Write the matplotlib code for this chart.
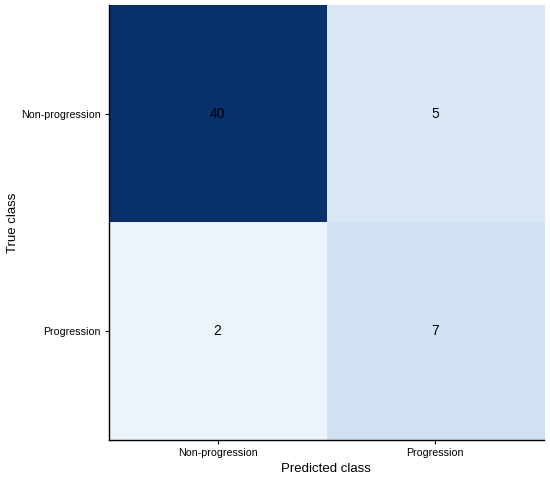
import matplotlib
matplotlib.use("Agg")
import matplotlib.pyplot as plt
import numpy as np

plt.rcParams['font.family'] = ['Liberation Sans', 'DejaVu Sans']

classes = ["Non-progression", "Progression"]
counts = [[40, 5],
          [2, 7]]

cm = np.array(counts)
fig = plt.figure(figsize=(5.5, 4.79), dpi=100)
ax = fig.add_axes([0.198, 0.0814, 0.791, 0.9082])
ax.imshow(cm, cmap="Blues", vmin=0, vmax=35, aspect="auto", interpolation="nearest")
for i in range(cm.shape[0]):
    for j in range(cm.shape[1]):
        ax.text(j, i, str(cm[i, j]), ha="center", va="center", color="black", fontsize=10)

ax.set_xticks(range(len(classes)))
ax.set_xticklabels(classes, fontsize=7.7)
ax.set_yticks(range(len(classes)))
ax.set_yticklabels(classes, fontsize=7.7)
ax.set_xlabel("Predicted class", fontsize=9.5, labelpad=3)
ax.set_ylabel("True class", fontsize=9.5, labelpad=1)
ax.spines['top'].set_visible(False)
ax.spines['right'].set_visible(False)
ax.spines['left'].set_linewidth(1.0)
ax.spines['bottom'].set_linewidth(1.0)
ax.tick_params(length=3, width=0.8, pad=3)

fig.savefig("out.png", dpi=100)
